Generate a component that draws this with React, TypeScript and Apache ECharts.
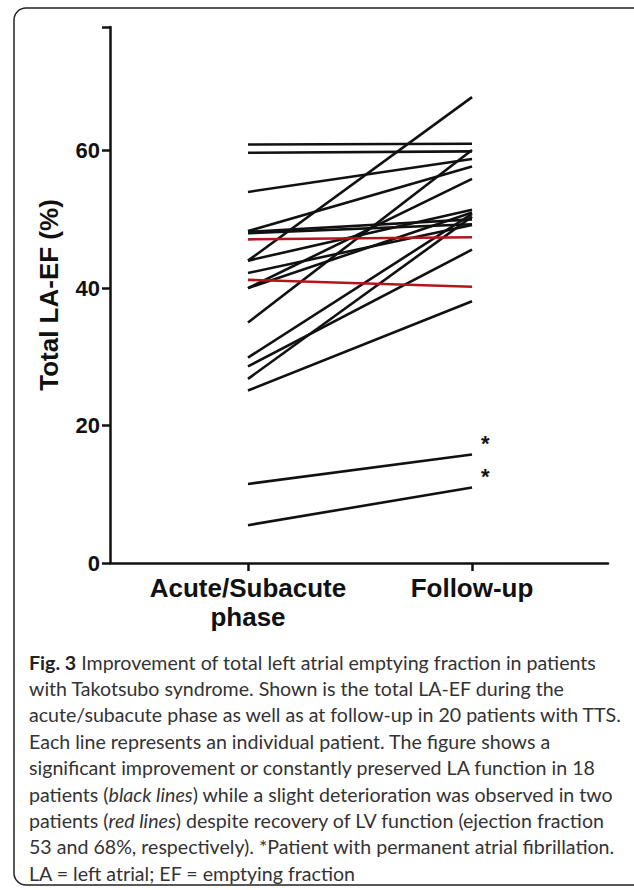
import React, { useEffect, useRef } from "react";
import * as echarts from "echarts";

// Total LA-EF (%) per patient
const acute = [60.9, 59.7, 54.0, 48.3, 48.0, 47.1, 44.0, 44.0, 42.2, 41.2, 40.0, 35.0, 29.9, 28.6, 26.8, 25.1, 11.5, 5.5, 40.0, 48.2];
const followUp = [61.0, 59.9, 58.8, 57.7, 49.3, 47.4, 67.8, 51.4, 49.2, 40.2, 55.9, 60.1, 50.8, 45.6, 50.4, 38.1, 15.8, 11.0, 51.0, 50.0];
const deteriorated = [false, false, false, false, false, true, false, false, false, true, false, false, false, false, false, false, false, false, false, false];
const atrialFib = [false, false, false, false, false, false, false, false, false, false, false, false, false, false, false, false, true, true, false, false];
const categories = ["Acute/Subacute\nphase", "Follow-up"];
const yTicks = [0, 20, 40, 60];

const captionLines = [
  "{b|Fig. 3} Improvement of total left atrial emptying fraction in patients",
  "with Takotsubo syndrome. Shown is the total LA-EF during the",
  "acute/subacute phase as well as at follow-up in 20 patients with TTS.",
  "Each line represents an individual patient. The figure shows a",
  "significant improvement or constantly preserved LA function in 18",
  "patients ({i|black lines}) while a slight deterioration was observed in two",
  "patients ({i|red lines}) despite recovery of LV function (ejection fraction",
  "53 and 68%, respectively). *Patient with permanent atrial fibrillation.",
  "LA = left atrial; EF = emptying fraction",
];

export default function App() {
  const ref = useRef<HTMLDivElement>(null);
  useEffect(() => {
    if (!ref.current) return;
    const chart = echarts.init(ref.current, null, { renderer: "svg" });
    const axisFont = '"Liberation Sans", Arial, sans-serif';
    const capFont = 'Lato, "Open Sans", sans-serif';
    const capSize = 19.6;
    const series: any[] = acute.map((a, i) => ({
      type: "line",
      data: [[0, a], [1, followUp[i]]],
      symbol: "none",
      lineStyle: { color: deteriorated[i] ? "#b3151d" : "#111", width: 2.6 },
      z: deteriorated[i] ? 3 : 2,
      endLabel: {
        show: atrialFib[i],
        formatter: "*",
        offset: [1, -11],
        fontSize: 22,
        fontWeight: "bold",
        color: "#111",
        fontFamily: axisFont,
      },
    }));
    const graphics: any[] = [
      {
        type: "rect",
        shape: { x: 14, y: 8, width: 640, height: 877, r: 12 },
        style: { fill: "none", stroke: "#222", lineWidth: 1.5 },
        silent: true,
      },
      ...captionLines.map((t, k) => ({
        type: "text",
        x: 29,
        y: 662 + 26.4 * k,
        style: {
          text: t,
          fontFamily: capFont,
          fontSize: capSize,
          fill: "#333",
          verticalAlign: "middle",
          rich: {
            b: { fontWeight: "bold", fontFamily: capFont, fontSize: capSize, fill: "#222" },
            i: { fontStyle: "italic", fontFamily: capFont, fontSize: capSize, fill: "#333" },
          },
        },
      })),
    ];
    chart.setOption({
      animation: false,
      grid: { left: 110, top: 27, right: 26, bottom: 327, containLabel: false },
      xAxis: {
        type: "value",
        min: -0.616,
        max: 1.607,
        splitLine: { show: false },
        axisLine: { onZero: false, lineStyle: { color: "#111", width: 2.5 } },
        axisTick: { length: 8, lineStyle: { color: "#111", width: 2.5 }, customValues: [0, 1] },
        axisLabel: {
          customValues: [0, 1],
          formatter: (v: number) => categories[Math.round(v)] ?? "",
          fontSize: 26,
          lineHeight: 29,
          fontWeight: "bold",
          color: "#111",
          fontFamily: axisFont,
          margin: 10,
        },
      },
      yAxis: {
        type: "value",
        min: 0,
        max: 78,
        interval: 20,
        splitLine: { show: false },
        axisLine: { show: true, onZero: false, lineStyle: { color: "#111", width: 2.5 } },
        axisTick: { show: true, length: 8, lineStyle: { color: "#111", width: 2.5 } },
        axisLabel: {
          formatter: (v: number) => (yTicks.includes(v) ? String(v) : ""),
          fontSize: 22,
          fontWeight: "bold",
          color: "#111",
          fontFamily: axisFont,
          margin: 10,
        },
        name: "Total LA-EF (%)",
        nameLocation: "middle",
        nameGap: 48,
        nameTextStyle: { fontSize: 26, fontWeight: "bold", color: "#111", fontFamily: axisFont },
      },
      series,
      graphic: graphics,
    });
    return () => chart.dispose();
  }, []);
  return <div ref={ref} style={{ width: 634, height: 890, position: "absolute", left: 0, top: 0 }} />;
}
